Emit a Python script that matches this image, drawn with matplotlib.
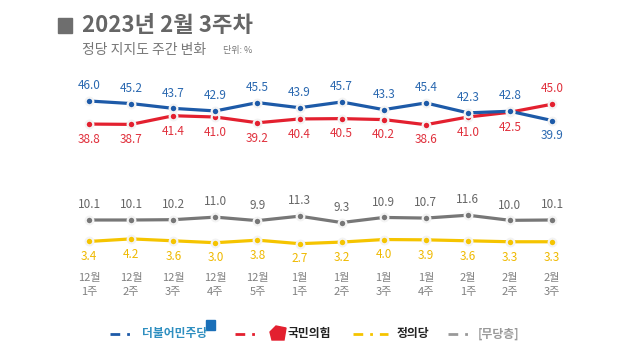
import matplotlib
matplotlib.use("Agg")
import matplotlib.pyplot as plt
from matplotlib.lines import Line2D
from matplotlib.patches import Rectangle, Polygon

plt.rcParams['font.family'] = ['Noto Sans CJK KR', 'DejaVu Sans']

# data
months = ["12월", "12월", "12월", "12월", "12월", "1월", "1월", "1월", "1월", "2월", "2월", "2월"]
weeks = ["1주", "2주", "3주", "4주", "5주", "1주", "2주", "3주", "4주", "1주", "2주", "3주"]
democratic = [46.0, 45.2, 43.7, 42.9, 45.5, 43.9, 45.7, 43.3, 45.4, 42.3, 42.8, 39.9]
ppp = [38.8, 38.7, 41.4, 41.0, 39.2, 40.4, 40.5, 40.2, 38.6, 41.0, 42.5, 45.0]
independent = [10.1, 10.1, 10.2, 11.0, 9.9, 11.3, 9.3, 10.9, 10.7, 11.6, 10.0, 10.1]
justice = [3.4, 4.2, 3.6, 3.0, 3.8, 2.7, 3.2, 4.0, 3.9, 3.6, 3.3, 3.3]

BLUE = "#1d5aa8"
RED = "#e3202f"
YELLOW = "#f5c400"
GRAY = "#777777"
BLUE_TXT = "#2a68b0"
RED_TXT = "#e0303c"
GRAY_TXT = "#666666"
YELLOW_TXT = "#efb900"

fig = plt.figure(figsize=(6.4, 3.52), dpi=100)
W, H = 640.0, 352.0

x = list(range(len(months)))
ax_left = 66 / W
ax_width = 505 / W

ax_top = fig.add_axes([ax_left, 1 - 150 / H, ax_width, 70 / H])
ax_bot = fig.add_axes([ax_left, 1 - 260 / H, ax_width, 70 / H])
for ax in (ax_top, ax_bot):
    ax.set_xlim(-0.55, 11.45)
    for s in ax.spines.values():
        s.set_visible(False)
    ax.set_yticks([])
    ax.patch.set_alpha(0)
ax_top.set_ylim(30.7, 52.56)
ax_bot.set_ylim(-2.4, 19.475)
ax_top.set_xticks([])


def draw(ax, vals, color):
    ax.plot(x, vals, color=color, linewidth=2.3, zorder=2)
    ax.plot(x, vals, linestyle="none", marker="o", markersize=5.5,
            markerfacecolor=color, markeredgecolor="#f3f3f3", markeredgewidth=1.6, zorder=3)


def label(ax, xi, v, color, up):
    ax.annotate("%.1f" % v, (xi, v), xytext=(0, 11 if up else -11),
                textcoords="offset points", ha="center", va="center",
                fontsize=8.5, color=color)


draw(ax_top, ppp, RED)
draw(ax_top, democratic, BLUE)
draw(ax_bot, independent, GRAY)
draw(ax_bot, justice, YELLOW)

for i in x:
    blue_up = democratic[i] >= ppp[i]
    label(ax_top, i, democratic[i], BLUE_TXT, blue_up)
    label(ax_top, i, ppp[i], RED_TXT, not blue_up)
    label(ax_bot, i, independent[i], GRAY_TXT, True)
    label(ax_bot, i, justice[i], YELLOW_TXT, False)

ax_bot.set_xticks(x)
ax_bot.set_xticklabels([m + "\n" + w for m, w in zip(months, weeks)],
                       fontsize=8, color="#808080", linespacing=1.5)
ax_bot.tick_params(axis="x", length=0, pad=9)

# title
fig.patches.append(Rectangle((58 / W, 1 - 33 / H), 14 / W, 15 / H,
                             transform=fig.transFigure, color="#6e6e6e"))
fig.text(82 / W, 1 - 26 / H, "2023년 2월 3주차", fontsize=16, fontweight="bold",
         color="#666666", va="center", ha="left")
fig.text(82 / W, 1 - 50 / H, "정당 지지도 주간 변화", fontsize=10,
         color="#777777", va="center", ha="left")
fig.text(223 / W, 1 - 51 / H, "단위: %", fontsize=6.5,
         color="#777777", va="center", ha="left")

# legend
ly = 1 - 334 / H
legend_items = [
    (110, 132, BLUE, 142, "더불어민주당", "#2f8fc0", "bold"),
    (235, 257, RED, 288, "국민의힘", "#222222", "bold"),
    (353, 388, YELLOW, 397, "정의당", "#222222", "bold"),
    (448, 470, "#999999", 478, "[무당층]", "#999999", "bold"),
]
for x0, x1, col, tx, txt, tcol, fw in legend_items:
    fig.add_artist(Line2D([x0 / W, x1 / W], [ly, ly], transform=fig.transFigure,
                          color=col, linewidth=2, dashes=(3.5, 2.5, 1, 2.5)))
    fig.text(tx / W, ly, txt, fontsize=8.5, color=tcol, fontweight=fw,
             va="center", ha="left")

# small logo marks
fig.patches.append(Rectangle((206 / W, 1 - 330 / H), 9 / W, 10 / H,
                             transform=fig.transFigure, color="#1a6fb8"))
fig.patches.append(Polygon([(272 / W, 1 - 340 / H), (284 / W, 1 - 340 / H),
                            (286 / W, 1 - 328 / H), (276 / W, 1 - 326 / H),
                            (270 / W, 1 - 332 / H)],
                           closed=True, transform=fig.transFigure, color=RED))

fig.savefig("out.png", dpi=100)
